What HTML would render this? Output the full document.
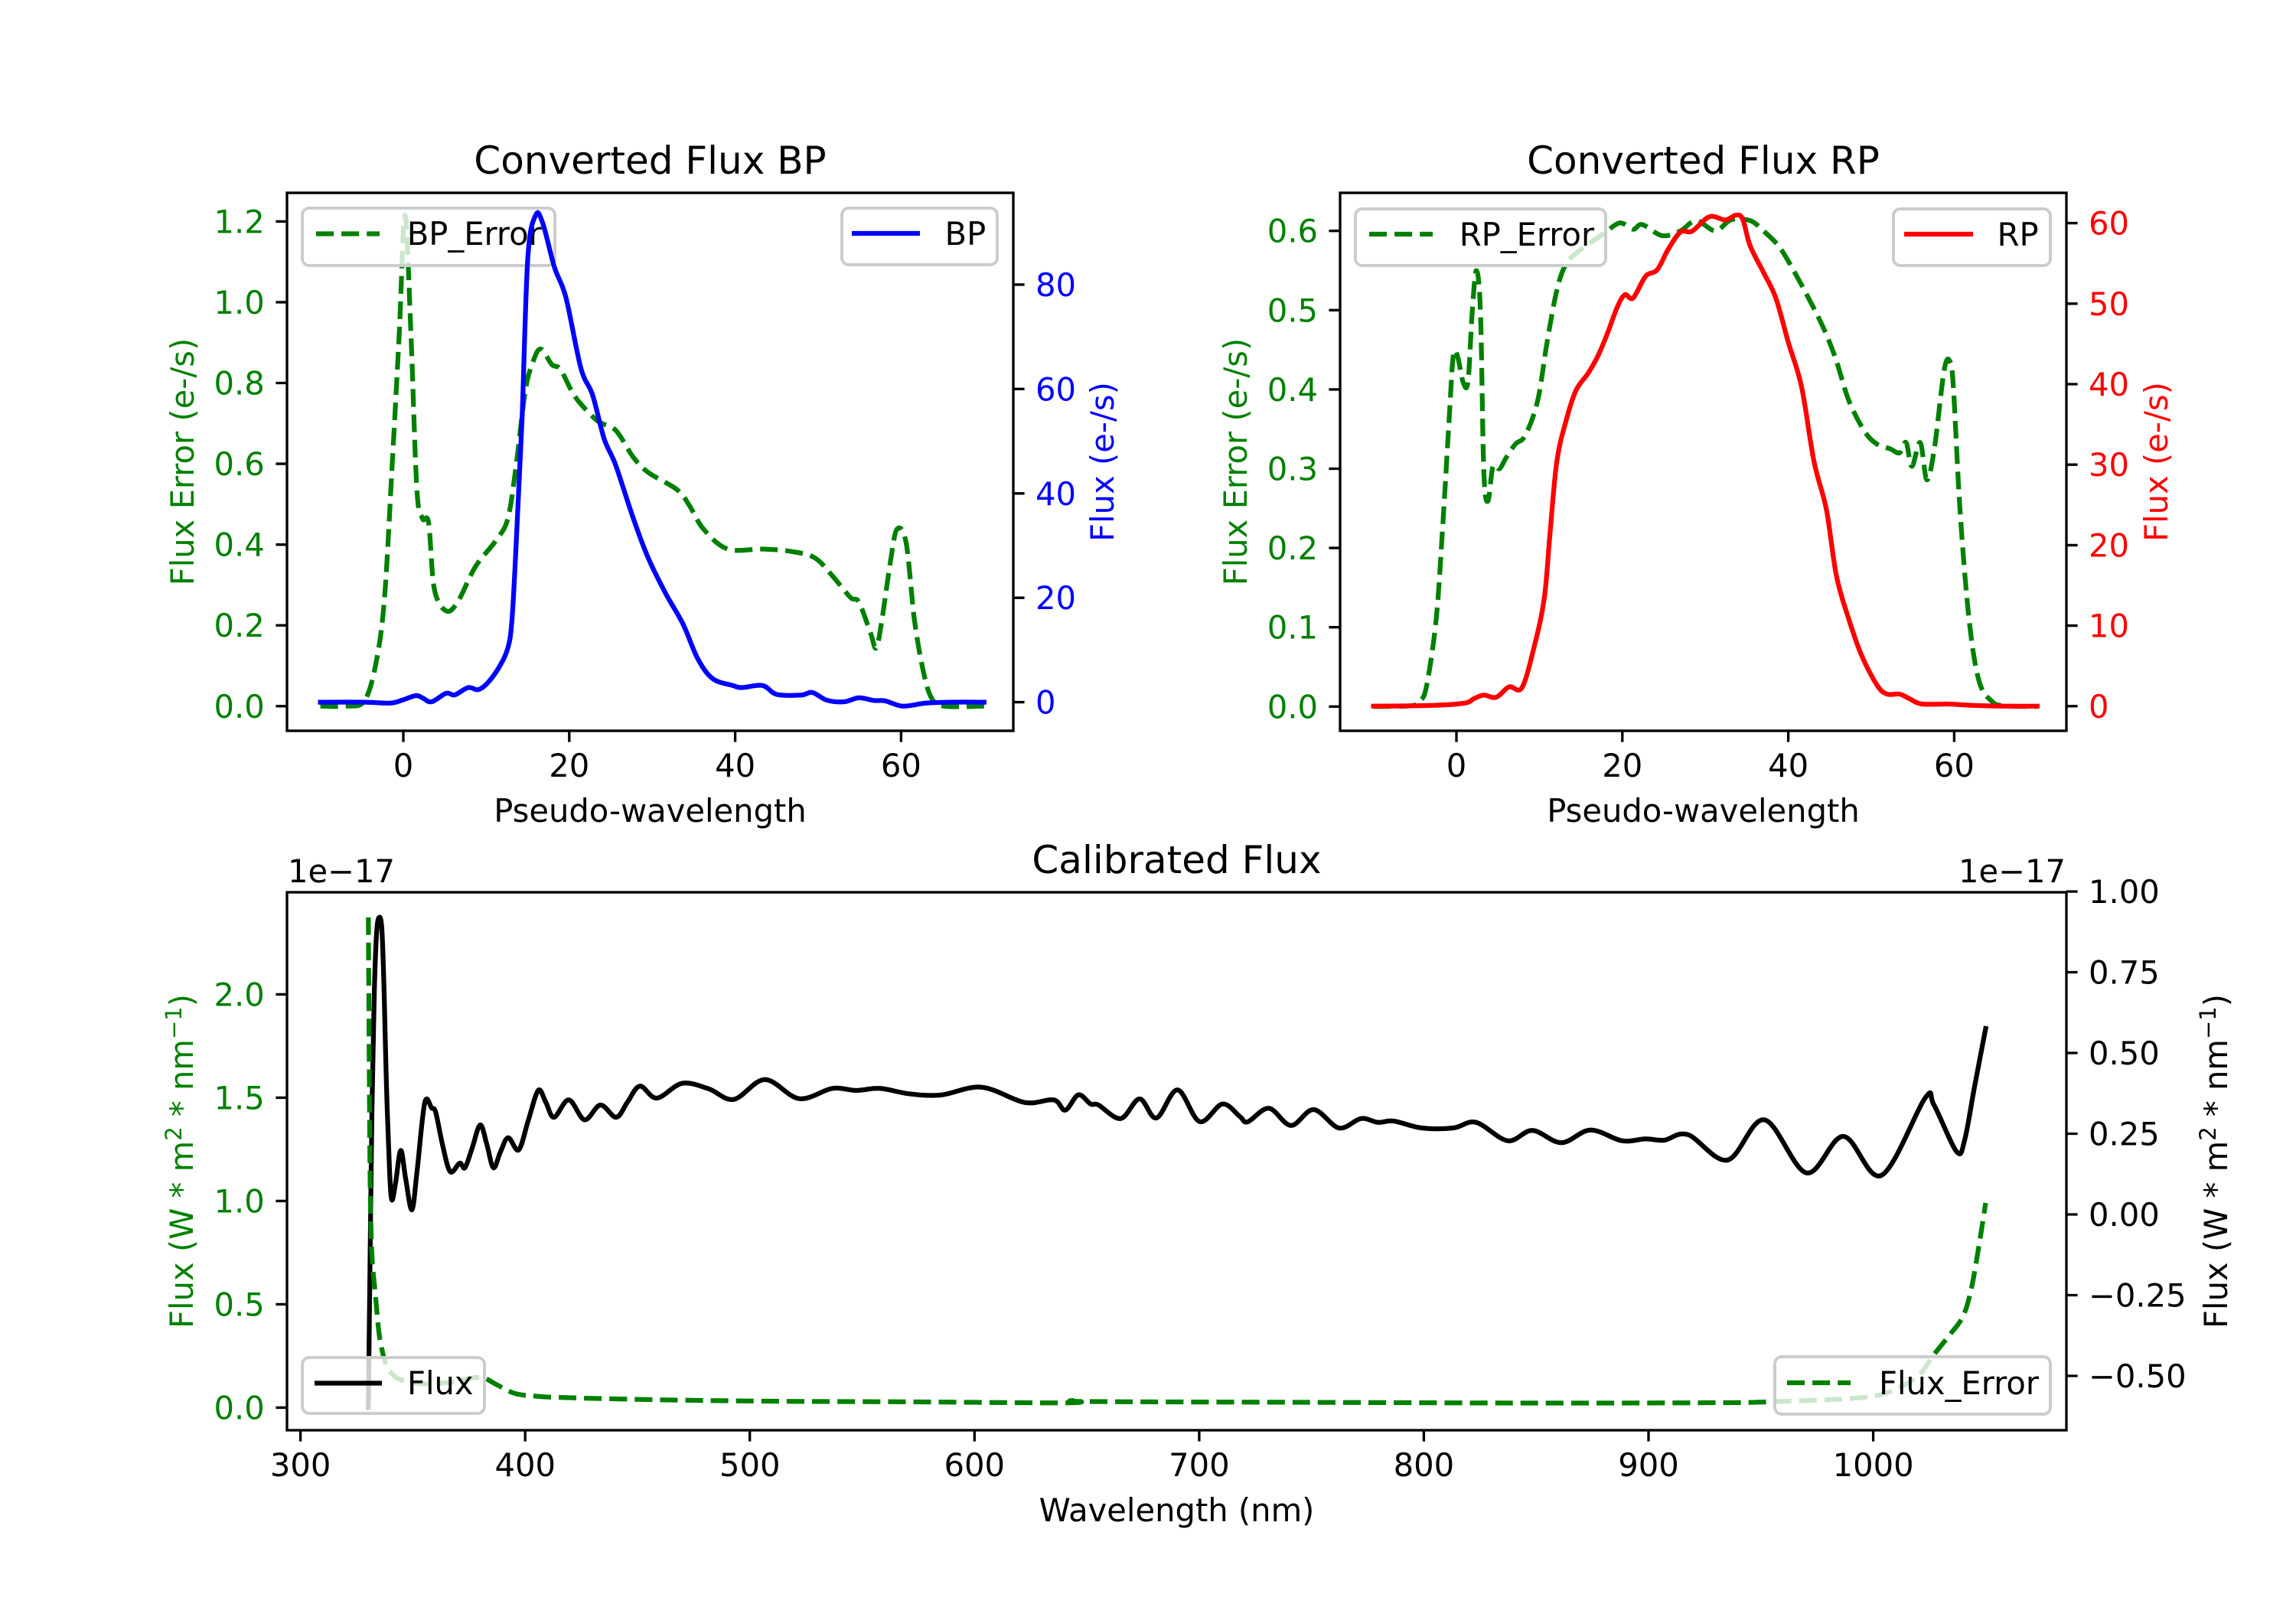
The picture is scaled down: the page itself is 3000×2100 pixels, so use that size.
<!DOCTYPE html>
<html>
<head>
<meta charset="utf-8">
<style>
  html, body { margin: 0; padding: 0; background: #ffffff; }
  svg { display: block; }
  text { font-family: "DejaVu Sans", "Liberation Sans", sans-serif; font-size: 41.67px; }
  .t { font-size: 50px; }
</style>
</head>
<body>
<svg id="fig" xmlns="http://www.w3.org/2000/svg" width="3000" height="2100" viewBox="0 0 3000 2100">
  <rect x="0" y="0" width="3000" height="2100" fill="#ffffff"/>
  <defs>
    <clipPath id="c1"><rect x="375" y="252" width="949" height="703"/></clipPath>
    <clipPath id="c2"><rect x="1751" y="252" width="949" height="703"/></clipPath>
    <clipPath id="c3"><rect x="375" y="1166" width="2325" height="703"/></clipPath>
  </defs>

  <!-- ============ AXES 1 (BP) ============ -->
  <g id="ax1_err" clip-path="url(#c1)"></g>
  <rect x="395" y="272" width="330" height="75" rx="9" ry="9" fill="#ffffff" fill-opacity="0.8" stroke="#cccccc" stroke-width="4"/>
  <line x1="413" y1="305.5" x2="496" y2="305.5" stroke="#008000" stroke-width="6.25" stroke-dasharray="23.1,10"/>
  <text x="531.7" y="320">BP_Error</text>
  <g id="ax1_flux" clip-path="url(#c1)"></g>
  <rect x="1100" y="272" width="203" height="74" rx="9" ry="9" fill="#ffffff" fill-opacity="0.8" stroke="#cccccc" stroke-width="4"/>
  <line x1="1113" y1="305" x2="1202" y2="305" stroke="#0000ff" stroke-width="6.25"/>
  <text x="1234.5" y="320">BP</text>
  <rect x="375" y="252" width="949" height="703" fill="none" stroke="#000" stroke-width="3.33"/>
  <path d="M360.4 922.8H375M360.4 817.2H375M360.4 711.7H375M360.4 606.1H375M360.4 500.5H375M360.4 394.9H375M360.4 289.4H375
           M1324 917.6H1338.6M1324 781.2H1338.6M1324 644.8H1338.6M1324 508.3H1338.6M1324 371.9H1338.6
           M527 955V969.6M743.8 955V969.6M960.6 955V969.6M1177.4 955V969.6" stroke="#000" stroke-width="3.33" fill="none"/>
  <g fill="#008000" text-anchor="end">
    <text x="345.8" y="937.8">0.0</text><text x="345.8" y="832.2">0.2</text><text x="345.8" y="726.7">0.4</text>
    <text x="345.8" y="621.1">0.6</text><text x="345.8" y="515.5">0.8</text><text x="345.8" y="409.9">1.0</text>
    <text x="345.8" y="304.4">1.2</text>
  </g>
  <g fill="#0000ff">
    <text x="1353" y="932.6">0</text><text x="1353" y="796.2">20</text><text x="1353" y="659.8">40</text>
    <text x="1353" y="523.3">60</text><text x="1353" y="386.9">80</text>
  </g>
  <g text-anchor="middle" fill="#000">
    <text x="527" y="1015">0</text><text x="743.8" y="1015">20</text><text x="960.6" y="1015">40</text><text x="1177.4" y="1015">60</text>
    <text x="849.5" y="1074">Pseudo-wavelength</text>
    <text class="t" x="849.5" y="227">Converted Flux BP</text>
  </g>
  <text transform="translate(253,603.5) rotate(-90)" text-anchor="middle" fill="#008000">Flux Error (e-/s)</text>
  <text transform="translate(1455,603.5) rotate(-90)" text-anchor="middle" fill="#0000ff">Flux (e-/s)</text>

  <!-- ============ AXES 2 (RP) ============ -->
  <g id="ax2_err" clip-path="url(#c2)"></g>
  <rect x="1771" y="273" width="327" height="74" rx="9" ry="9" fill="#ffffff" fill-opacity="0.8" stroke="#cccccc" stroke-width="4"/>
  <line x1="1789" y1="306" x2="1872" y2="306" stroke="#008000" stroke-width="6.25" stroke-dasharray="23.1,10"/>
  <text x="1906.7" y="321">RP_Error</text>
  <g id="ax2_flux" clip-path="url(#c2)"></g>
  <rect x="2474" y="273" width="205" height="74" rx="9" ry="9" fill="#ffffff" fill-opacity="0.8" stroke="#cccccc" stroke-width="4"/>
  <line x1="2488" y1="306" x2="2578" y2="306" stroke="#ff0000" stroke-width="6.25"/>
  <text x="2609.5" y="321">RP</text>
  <rect x="1751" y="252" width="949" height="703" fill="none" stroke="#000" stroke-width="3.33"/>
  <path d="M1736.4 923.3H1751M1736.4 819.7H1751M1736.4 716.1H1751M1736.4 612.5H1751M1736.4 508.9H1751M1736.4 405.3H1751M1736.4 301.7H1751
           M2700 922.8H2714.6M2700 817.6H2714.6M2700 712.4H2714.6M2700 607.2H2714.6M2700 502H2714.6M2700 396.8H2714.6M2700 291.6H2714.6
           M1903 955V969.6M2119.8 955V969.6M2336.6 955V969.6M2553.4 955V969.6" stroke="#000" stroke-width="3.33" fill="none"/>
  <g fill="#008000" text-anchor="end">
    <text x="1722" y="938.3">0.0</text><text x="1722" y="834.7">0.1</text><text x="1722" y="731.1">0.2</text>
    <text x="1722" y="627.5">0.3</text><text x="1722" y="523.9">0.4</text><text x="1722" y="420.3">0.5</text>
    <text x="1722" y="316.7">0.6</text>
  </g>
  <g fill="#ff0000">
    <text x="2729" y="937.8">0</text><text x="2729" y="832.6">10</text><text x="2729" y="727.4">20</text>
    <text x="2729" y="622.2">30</text><text x="2729" y="517">40</text><text x="2729" y="411.8">50</text>
    <text x="2729" y="306.6">60</text>
  </g>
  <g text-anchor="middle" fill="#000">
    <text x="1903" y="1015">0</text><text x="2119.8" y="1015">20</text><text x="2336.6" y="1015">40</text><text x="2553.4" y="1015">60</text>
    <text x="2225.5" y="1074">Pseudo-wavelength</text>
    <text class="t" x="2225.5" y="227">Converted Flux RP</text>
  </g>
  <text transform="translate(1629,603.5) rotate(-90)" text-anchor="middle" fill="#008000">Flux Error (e-/s)</text>
  <text transform="translate(2832,603.5) rotate(-90)" text-anchor="middle" fill="#ff0000">Flux (e-/s)</text>

  <!-- ============ AXES 3 (Calibrated) ============ -->
  <g id="ax3" clip-path="url(#c3)"></g>
  <rect x="395" y="1774" width="238" height="73" rx="9" ry="9" fill="#ffffff" fill-opacity="0.8" stroke="#cccccc" stroke-width="4"/>
  <line x1="411" y1="1807.5" x2="499" y2="1807.5" stroke="#000" stroke-width="6.25"/>
  <text x="532" y="1822">Flux</text>
  <rect x="2319" y="1773" width="360" height="75" rx="9" ry="9" fill="#ffffff" fill-opacity="0.8" stroke="#cccccc" stroke-width="4"/>
  <line x1="2335" y1="1807" x2="2418" y2="1807" stroke="#008000" stroke-width="6.25" stroke-dasharray="23.1,10"/>
  <text x="2455" y="1822">Flux_Error</text>
  <rect x="375" y="1166" width="2325" height="703" fill="none" stroke="#000" stroke-width="3.33"/>
  <path d="M360.4 1839.4H375M360.4 1704.4H375M360.4 1569.4H375M360.4 1434.4H375M360.4 1299.4H375
           M2700 1165H2714.6M2700 1270.5H2714.6M2700 1376H2714.6M2700 1481.5H2714.6M2700 1587H2714.6M2700 1692.5H2714.6M2700 1798H2714.6
           M392.6 1869V1883.6M686.2 1869V1883.6M979.7 1869V1883.6M1273.3 1869V1883.6M1566.9 1869V1883.6M1860.4 1869V1883.6M2154 1869V1883.6M2447.6 1869V1883.6"
        stroke="#000" stroke-width="3.33" fill="none"/>
  <g fill="#008000" text-anchor="end">
    <text x="345.8" y="1854.4">0.0</text><text x="345.8" y="1719.4">0.5</text><text x="345.8" y="1584.4">1.0</text>
    <text x="345.8" y="1449.4">1.5</text><text x="345.8" y="1314.4">2.0</text>
  </g>
  <g fill="#000">
    <text x="2729" y="1180">1.00</text><text x="2729" y="1285.5">0.75</text><text x="2729" y="1391">0.50</text>
    <text x="2729" y="1496.5">0.25</text><text x="2729" y="1602">0.00</text><text x="2729" y="1707.5">−0.25</text>
    <text x="2729" y="1813">−0.50</text>
  </g>
  <g text-anchor="middle" fill="#000">
    <text x="392.6" y="1929">300</text><text x="686.2" y="1929">400</text><text x="979.7" y="1929">500</text>
    <text x="1273.3" y="1929">600</text><text x="1566.9" y="1929">700</text><text x="1860.4" y="1929">800</text>
    <text x="2154" y="1929">900</text><text x="2447.6" y="1929">1000</text>
    <text x="1537.5" y="1988">Wavelength (nm)</text>
    <text class="t" x="1537.5" y="1141">Calibrated Flux</text>
  </g>
  <text x="376" y="1153">1e−17</text>
  <text x="2699" y="1153" text-anchor="end">1e−17</text>
  <text transform="translate(252,1517.5) rotate(-90)" text-anchor="middle" fill="#008000">Flux (W * m<tspan dy="-15" font-size="29px">2</tspan><tspan dy="15"> * nm</tspan><tspan dy="-15" font-size="29px">−1</tspan><tspan dy="15">)</tspan></text>
  <text transform="translate(2910,1517.5) rotate(-90)" text-anchor="middle" fill="#000">Flux (W * m<tspan dy="-15" font-size="29px">2</tspan><tspan dy="15"> * nm</tspan><tspan dy="-15" font-size="29px">−1</tspan><tspan dy="15">)</tspan></text>
</svg>

<script>
(function(){
  var NS = "http://www.w3.org/2000/svg";
  function cr(pts){
    if(pts.length<2) return "";
    var d = "M"+pts[0][0].toFixed(1)+" "+pts[0][1].toFixed(1);
    for(var i=0;i<pts.length-1;i++){
      var p0 = pts[i>0?i-1:i], p1 = pts[i], p2 = pts[i+1], p3 = pts[i+2<pts.length?i+2:i+1];
      var c1x = p1[0]+(p2[0]-p0[0])/6, c1y = p1[1]+(p2[1]-p0[1])/6;
      var c2x = p2[0]-(p3[0]-p1[0])/6, c2y = p2[1]-(p3[1]-p1[1])/6;
      d += "C"+c1x.toFixed(1)+" "+c1y.toFixed(1)+" "+c2x.toFixed(1)+" "+c2y.toFixed(1)+" "+p2[0].toFixed(1)+" "+p2[1].toFixed(1);
    }
    return d;
  }
  function add(gid, pts, color, dashed){
    var p = document.createElementNS(NS,"path");
    p.setAttribute("d", cr(pts));
    p.setAttribute("fill","none");
    p.setAttribute("stroke", color);
    p.setAttribute("stroke-width","6.25");
    p.setAttribute("stroke-linejoin","round");
    if(dashed){ p.setAttribute("stroke-dasharray","23.1,10"); p.setAttribute("stroke-linecap","butt"); }
    else { p.setAttribute("stroke-linecap","square"); }
    document.getElementById(gid).appendChild(p);
  }
  function map(data, fx, fy){ return data.map(function(a){ return [fx(a[0]), fy(a[1])]; }); }

  var ax1x = function(x){ return 527 + x*10.84; };
  var ax1yL = function(v){ return 955 - (v+0.061)*527.8; };
  var ax1yR = function(v){ return 955 - (v+5.48)*6.821; };
  var ax2x = function(x){ return 1903 + x*10.84; };
  var ax2yL = function(v){ return 923.3 - v*1036; };
  var ax2yR = function(v){ return 922.8 - v*10.52; };

  var bpErr = [[-10,0],[-6.8,0],[-4.7,0.013],[-3.3,0.106],[-2.26,0.27],[-1.34,0.6],[-0.5,0.92],[0.2,1.216],[0.92,0.92],[1.62,0.54],[2.3,0.465],[3.04,0.454],[3.74,0.29],[5.15,0.236],[6.55,0.258],[8.68,0.345],[11.15,0.41],[12.6,0.465],[13.6,0.596],[14.7,0.78],[15.7,0.857],[16.6,0.884],[17.9,0.846],[18.9,0.835],[20.3,0.78],[21.4,0.748],[23.5,0.705],[25.6,0.683],[27.7,0.617],[29.5,0.579],[33.0,0.536],[34.45,0.498],[36.2,0.438],[39.1,0.389],[43.3,0.389],[46.8,0.383],[49.6,0.367],[51.7,0.323],[53.9,0.269],[54.9,0.258],[56.3,0.182],[57.0,0.144],[57.7,0.215],[58.7,0.356],[59.5,0.438],[60.6,0.405],[61.6,0.215],[62.7,0.084],[63.7,0.019],[65.2,0],[70,0]];
  var bp = [[-10,0],[-4.7,0],[-1.55,-0.17],[-0.14,0.4],[1.5,1.27],[2.3,0.84],[3.4,0.08],[5.15,1.7],[6.2,1.4],[7.8,2.8],[9.0,2.4],[10.1,3.6],[11.5,6.6],[12.6,10.4],[13.1,15.9],[13.6,30.2],[14.3,53.8],[15.0,85],[15.95,93.3],[16.8,91.8],[18.2,83.4],[19.6,77.5],[21.4,64],[22.8,58.9],[24.2,50.5],[25.6,45.4],[27.7,35.3],[29.5,27.7],[31.6,20.9],[33.7,15],[35.5,8.3],[37.3,4.5],[39.7,3.2],[40.8,2.8],[43.3,3.2],[45.0,1.5],[47.9,1.35],[49.3,1.86],[51.0,0.42],[53.1,0.08],[54.9,0.84],[56.7,0.34],[58.1,0.25],[60.2,-0.76],[63.0,-0.17],[66,0],[70,0]];
  var rpErr = [[-10,0],[-5.5,0.001],[-4.4,0.007],[-3.6,0.026],[-2.45,0.109],[-1.7,0.22],[-0.9,0.358],[-0.4,0.441],[0.1,0.443],[0.84,0.408],[1.4,0.411],[1.9,0.497],[2.4,0.55],[2.9,0.497],[3.3,0.297],[3.8,0.259],[4.4,0.303],[5.2,0.3],[6.0,0.314],[7.1,0.331],[8.3,0.342],[9.8,0.386],[10.9,0.458],[12.1,0.525],[13.2,0.558],[14.8,0.575],[16.3,0.586],[17.8,0.597],[19.7,0.61],[21.3,0.602],[22.4,0.608],[24.8,0.594],[27.0,0.6],[28.9,0.613],[31.2,0.6],[33.1,0.614],[35.4,0.613],[37.0,0.6],[38.9,0.58],[40.8,0.547],[43.1,0.502],[44.6,0.469],[45.8,0.436],[47.3,0.386],[49.2,0.347],[50.7,0.331],[52.3,0.325],[53.4,0.32],[54.2,0.333],[54.9,0.303],[55.9,0.333],[56.7,0.286],[57.6,0.325],[58.8,0.425],[59.5,0.435],[59.9,0.403],[60.7,0.248],[61.8,0.109],[63.0,0.032],[64.5,0.007],[66.0,0.001],[70,0]];
  var rp = [[-10,0],[-2.8,0.1],[1.0,0.38],[2.1,0.93],[3.3,1.37],[4.8,1.1],[6.35,2.4],[7.9,2.3],[9.4,7.5],[10.6,13.5],[11.3,21.7],[12.1,30.4],[13.2,35.4],[14.4,39.2],[15.9,41.4],[17.1,43.6],[18.2,46.3],[19.4,49.6],[20.3,51.1],[21.3,50.7],[22.8,53.4],[24.2,54.2],[25.5,56.7],[27.0,58.9],[28.4,59.0],[30.5,60.8],[32.4,60.4],[33.7,61.0],[34.5,60.5],[35.4,57.2],[37.0,53.9],[38.5,50.7],[40.0,45.2],[41.6,39.7],[43.1,30.4],[44.6,24.4],[45.8,16.2],[47.3,10.8],[48.8,6.4],[50.7,2.6],[51.9,1.5],[53.4,1.5],[54.6,0.93],[56.1,0.27],[59.2,0.27],[62.2,0.1],[66,0],[70,0]];

  add("ax1_err", map(bpErr, ax1x, ax1yL), "#008000", true);
  add("ax1_flux", map(bp, ax1x, ax1yR), "#0000ff", false);
  add("ax2_err", map(rpErr, ax2x, ax2yL), "#008000", true);
  add("ax2_flux", map(rp, ax2x, ax2yR), "#ff0000", false);

  var green3 = [[481.3,1198.8],[482.5,1400],[483.8,1556],[486,1640],[490.5,1692],[495,1740],[498.8,1762.5],[505,1785],[515,1798],[523.6,1803],[540,1807],[561,1808.5],[590,1806],[615,1801],[631.5,1800.4],[650,1810],[673,1821],[700,1824.5],[739.4,1826.4],[850.6,1829],[1000,1831],[1200,1832],[1395,1833.2],[1408,1830],[1422,1831.5],[1700,1832.5],[2000,1833.5],[2250,1833],[2315,1831.7],[2408,1828],[2460,1821.7],[2504,1800],[2527,1770],[2547,1745],[2565,1720],[2576,1683],[2586,1626],[2594.5,1572]];
  var black3 = [[481.3,1839.4],[483.5,1650],[486,1450],[489,1300],[492,1220],[495.4,1198.8],[499,1215],[502,1300],[505,1420],[509,1530],[512,1568],[517,1545],[523.6,1503.4],[530,1540],[538.2,1580.9],[545,1530],[555,1441],[564,1448],[569.3,1453.5],[578,1495],[588.2,1531],[600.6,1520],[607.5,1526],[617,1500],[627.5,1470],[636,1495],[644.7,1526],[654,1505],[664,1486.7],[677.7,1502.7],[690,1465],[703.2,1425],[713,1440],[723.9,1460],[743.2,1437.3],[763.8,1463.3],[784.5,1444],[805.2,1460],[820,1440],[836.1,1419.3],[858.2,1435],[891.2,1415.7],[925.7,1422.7],[958.7,1436.7],[999.4,1410.7],[1044.1,1435.7],[1087.5,1422.3],[1118.5,1425],[1149.5,1422.3],[1187.4,1429.3],[1228.7,1431],[1282.4,1420.7],[1338.9,1440.7],[1376.8,1437.3],[1391.9,1450.7],[1409.1,1430.7],[1425,1442.7],[1435.3,1444],[1464.2,1461.7],[1489,1436],[1511,1461],[1538.6,1424.3],[1567.5,1465.7],[1597.2,1442.7],[1620,1459],[1630.3,1466],[1657.9,1448.3],[1686.8,1470.7],[1716.4,1450],[1749.5,1474],[1778.4,1461.7],[1800.4,1466.7],[1821.1,1465],[1857.6,1474],[1898.9,1474],[1928.5,1466.7],[1969.9,1490.7],[2002.2,1477.3],[2040.1,1493.3],[2078,1476.7],[2119.3,1490.7],[2150.3,1488.3],[2174.4,1490],[2205.4,1482.7],[2257,1516],[2305.3,1463.3],[2360.4,1532.7],[2408.6,1485],[2458.1,1536],[2515.3,1435],[2527,1444],[2556.6,1505],[2567,1490],[2580,1420],[2594.5,1344]];
  add("ax3", black3, "#000000", false);
  add("ax3", green3, "#008000", true);
})();
</script>
</body>
</html>
